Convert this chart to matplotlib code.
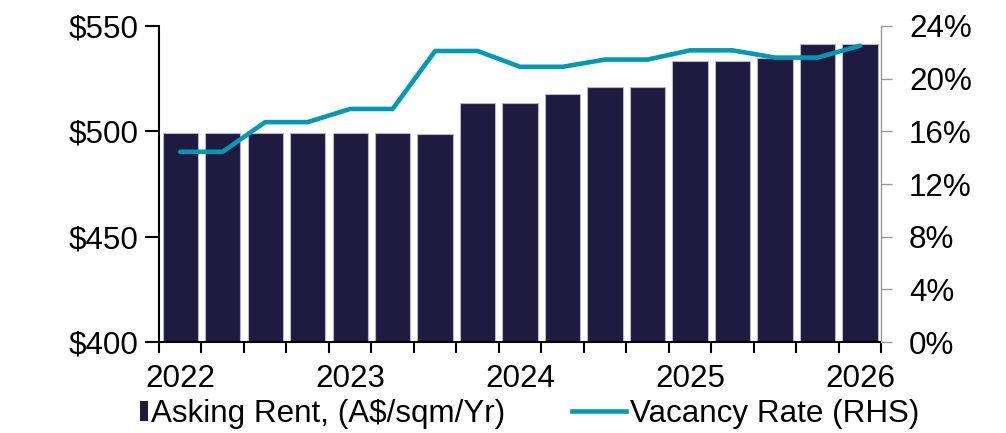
import numpy as np
import matplotlib.pyplot as plt
from matplotlib.patches import Patch
from matplotlib.lines import Line2D

plt.rcParams['font.family'] = ['Liberation Sans', 'DejaVu Sans']

# quarterly data, 2022 Q1 .. 2026 Q1
quarters = ['2022', '', '', '', '2023', '', '', '', '2024', '', '', '',
            '2025', '', '', '', '2026']
rent = [499, 499, 499, 499, 499, 499, 498.7, 513.5, 513.5, 517.5, 521, 521,
        533.5, 533.5, 535, 541.5, 541.5]
vacancy = [14.45, 14.45, 16.7, 16.7, 17.7, 17.7, 22.1, 22.1, 20.9, 20.9,
           21.45, 21.45, 22.15, 22.15, 21.6, 21.6, 22.5]

bar_col = '#1f1a40'
line_col = '#0099b4'
fs = 22.6

fig = plt.figure(figsize=(10.06, 4.33), dpi=100)
ax = fig.add_axes([0.158, 0.21, 0.718, 0.73])
x = np.arange(len(rent))

ax.bar(x, np.array(rent) - 400, bottom=400, width=0.83, color=bar_col,
       edgecolor='#b8b4c8', linewidth=0.8)
ax.set_xlim(-0.5, len(rent) - 0.5)
ax.set_ylim(400, 550)
ax.set_yticks([400, 450, 500, 550])
ax.set_yticklabels(['$400', '$450', '$500', '$550'], fontsize=fs)

# ticks on category boundaries, labels under bars
ax.set_xticks(np.arange(-0.5, len(rent)), minor=True)
ax.set_xticks(x)
ax.set_xticklabels(quarters, fontsize=fs)
ax.tick_params(axis='x', which='major', length=0, pad=16)
ax.tick_params(axis='x', which='minor', length=8, width=1.5, color='black')
ax.tick_params(axis='y', length=10, width=1.5, pad=5)

for s in ['top', 'right']:
    ax.spines[s].set_visible(False)
ax.spines['left'].set_linewidth(1.5)
ax.spines['bottom'].set_linewidth(1.5)

ax2 = ax.twinx()
ax2.plot(x, vacancy, color=line_col, lw=3.3, solid_capstyle='round')
ax2.set_ylim(0, 24)
ax2.set_yticks(np.arange(0, 25, 4))
ax2.set_yticklabels([f'{v}%' for v in range(0, 25, 4)], fontsize=fs)
ax2.tick_params(axis='y', length=8, width=1, color='#999999', pad=12)
for s in ['top', 'left', 'bottom']:
    ax2.spines[s].set_visible(False)
ax2.spines['right'].set_color('#999999')
ax2.spines['right'].set_linewidth(1)

h1 = Patch(facecolor=bar_col, edgecolor='none')
leg1 = fig.legend([h1], ['Asking Rent, (A$/sqm/Yr)'], loc='center left',
                  bbox_to_anchor=(0.139, 0.043), frameon=False, fontsize=fs,
                  handlelength=0.26, handleheight=0.6, handletextpad=0.1,
                  borderaxespad=0, borderpad=0)
h2 = Line2D([], [], color=line_col, lw=3.3)
leg2 = fig.legend([h2], ['Vacancy Rate (RHS)'], loc='center left',
                  bbox_to_anchor=(0.569, 0.043), frameon=False, fontsize=fs,
                  handlelength=1.7, handletextpad=0.15,
                  borderaxespad=0, borderpad=0)

fig.savefig('out.png', dpi=100)
